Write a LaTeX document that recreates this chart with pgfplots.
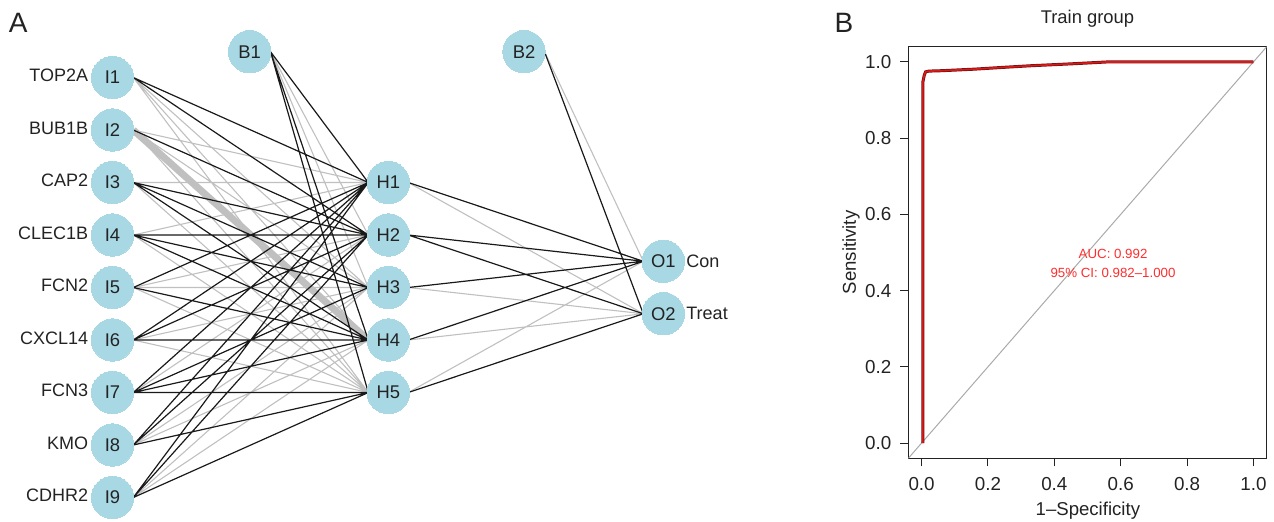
\documentclass[border=0pt]{standalone}
\usepackage{pgfplots}
\pgfplotsset{compat=1.18}
\usepackage{fontspec}
\setmainfont{Liberation Sans}
\definecolor{nodeblue}{RGB}{168,216,228}
\definecolor{edgegray}{RGB}{192,192,192}
\definecolor{edgeblack}{RGB}{25,25,25}
\definecolor{txt}{RGB}{35,35,35}
\definecolor{aucred}{RGB}{255,45,45}
\definecolor{rocdark}{RGB}{110,15,15}
\definecolor{rocred}{RGB}{220,25,25}
\definecolor{diaggray}{RGB}{170,170,170}
\begin{document}
\begin{tikzpicture}
\useasboundingbox (0,0) rectangle (637pt,-260.5pt);
% ---------------- Panel A: neural network ----------------
\begin{axis}[
  at={(0,0)}, anchor=north west, scale only axis,
  width=637pt, height=260.5pt,
  xmin=0, xmax=1274, ymin=0, ymax=521, y dir=reverse,
  enlargelimits=false, hide axis, clip=false,
  unbounded coords=jump,
]
% grey (negative) connections
\addplot[edgegray, line width=0.55pt, mark=none] coordinates {
 (133.3,77.5) (368.3,287.5) (nan,nan)
 (133.3,77.5) (368.3,340) (nan,nan)
 (133.3,77.5) (368.3,392.5) (nan,nan)
 (133.3,130) (368.3,182.5) (nan,nan)
 (133.3,130) (368.3,287.5) (nan,nan)
 (133.3,130) (368.3,392.5) (nan,nan)
 (133.3,182.5) (368.3,182.5) (nan,nan)
 (133.3,182.5) (368.3,392.5) (nan,nan)
 (133.3,235) (368.3,182.5) (nan,nan)
 (133.3,235) (368.3,392.5) (nan,nan)
 (133.3,287.5) (368.3,235) (nan,nan)
 (133.3,287.5) (368.3,287.5) (nan,nan)
 (133.3,287.5) (368.3,392.5) (nan,nan)
 (133.3,340) (368.3,287.5) (nan,nan)
 (133.3,340) (368.3,392.5) (nan,nan)
 (133.3,392.5) (368.3,235) (nan,nan)
 (133.3,445) (368.3,287.5) (nan,nan)
 (133.3,445) (368.3,340) (nan,nan)
 (133.3,497.5) (368.3,287.5) (nan,nan)
 (133.3,497.5) (368.3,340) (nan,nan)
 (270.5,51.7) (368.3,235) (nan,nan)
 (270.5,51.7) (368.3,287.5) (nan,nan)
 (408.3,182.5) (643.3,313.75) (nan,nan)
 (408.3,287.5) (643.3,313.75) (nan,nan)
 (408.3,340) (643.3,313.75) (nan,nan)
 (408.3,392.5) (643.3,261.25) (nan,nan)
 (544.5,51.7) (643.3,261.25)
};
\addplot[edgegray, line width=3.5pt, mark=none] coordinates {(133.3,130) (368.3,340)};
% black (positive) connections
\addplot[edgeblack, line width=0.6pt, mark=none] coordinates {
 (133.3,77.5) (368.3,182.5) (nan,nan)
 (133.3,77.5) (368.3,235) (nan,nan)
 (133.3,130) (368.3,235) (nan,nan)
 (133.3,182.5) (368.3,235) (nan,nan)
 (133.3,182.5) (368.3,287.5) (nan,nan)
 (133.3,182.5) (368.3,340) (nan,nan)
 (133.3,235) (368.3,235) (nan,nan)
 (133.3,235) (368.3,287.5) (nan,nan)
 (133.3,235) (368.3,340) (nan,nan)
 (133.3,287.5) (368.3,182.5) (nan,nan)
 (133.3,287.5) (368.3,340) (nan,nan)
 (133.3,340) (368.3,182.5) (nan,nan)
 (133.3,340) (368.3,235) (nan,nan)
 (133.3,340) (368.3,340) (nan,nan)
 (133.3,392.5) (368.3,182.5) (nan,nan)
 (133.3,392.5) (368.3,287.5) (nan,nan)
 (133.3,392.5) (368.3,340) (nan,nan)
 (133.3,392.5) (368.3,392.5) (nan,nan)
 (133.3,445) (368.3,182.5) (nan,nan)
 (133.3,445) (368.3,235) (nan,nan)
 (133.3,445) (368.3,392.5) (nan,nan)
 (133.3,497.5) (368.3,182.5) (nan,nan)
 (133.3,497.5) (368.3,235) (nan,nan)
 (133.3,497.5) (368.3,392.5) (nan,nan)
 (270.5,51.7) (368.3,182.5) (nan,nan)
 (270.5,51.7) (368.3,340) (nan,nan)
 (270.5,51.7) (368.3,392.5) (nan,nan)
 (408.3,182.5) (643.3,261.25) (nan,nan)
 (408.3,235) (643.3,261.25) (nan,nan)
 (408.3,235) (643.3,313.75) (nan,nan)
 (408.3,287.5) (643.3,261.25) (nan,nan)
 (408.3,340) (643.3,261.25) (nan,nan)
 (408.3,392.5) (643.3,313.75) (nan,nan)
 (544.5,51.7) (643.3,313.75)
};
% neurons
\addplot[only marks, mark=*, mark size=10.6pt,
  mark options={draw=nodeblue, fill=nodeblue, line width=0pt},
  nodes near coords, point meta=explicit symbolic,
  every node near coord/.append style={anchor=center, text=txt,
    font=\fontsize{9.2}{10}\selectfont}]
 coordinates {
 (112.5,77.5) [I1] (112.5,130) [I2] (112.5,182.5) [I3]
 (112.5,235) [I4] (112.5,287.5) [I5] (112.5,340) [I6]
 (112.5,392.5) [I7] (112.5,445) [I8] (112.5,497.5) [I9]
 (249.7,51.7) [B1]
 (388.3,182.5) [H1] (388.3,235) [H2] (388.3,287.5) [H3]
 (388.3,340) [H4] (388.3,392.5) [H5]
 (524,51.7) [B2]
 (663.3,261.25) [O1] (663.3,313.75) [O2]
};
% input names
\addplot[draw=none, mark=none,
  nodes near coords, point meta=explicit symbolic,
  every node near coord/.append style={anchor=east, inner sep=0pt, text=txt,
    font=\fontsize{9}{10}\selectfont}]
 coordinates {
 (88.5,75.5) [TOP2A] (88.5,128) [BUB1B] (88.5,180.5) [CAP2]
 (88.5,233) [CLEC1B] (88.5,285.5) [FCN2] (88.5,338) [CXCL14]
 (88.5,390.5) [FCN3] (88.5,443) [KMO] (88.5,495.5) [CDHR2]
};
% output names
\addplot[draw=none, mark=none,
  nodes near coords, point meta=explicit symbolic,
  every node near coord/.append style={anchor=west, inner sep=0pt, text=txt,
    font=\fontsize{9}{10}\selectfont}]
 coordinates {
 (686,261.5) [Con] (686,313) [Treat]
};
\node[text=txt, font=\fontsize{14}{15}\selectfont] at (axis cs:18.3,23.3) {A};
\node[text=txt, font=\fontsize{14}{15}\selectfont] at (axis cs:844,22.5) {B};
\end{axis}
% ---------------- Panel B: ROC curve ----------------
\begin{axis}[
  at={(454.15pt,-229.15pt)}, anchor=south west, scale only axis,
  width=179.2pt, height=205.8pt,
  xmin=-0.04, xmax=1.04, ymin=-0.04, ymax=1.04,
  enlargelimits=false,
  axis line style={txt, line width=0.5pt},
  tick pos=left, tick align=outside, major tick length=4pt,
  tick style={txt, line width=0.5pt},
  xtick={0,0.2,0.4,0.6,0.8,1}, ytick={0,0.2,0.4,0.6,0.8,1},
  /pgf/number format/assume math mode=true,
  /pgf/number format/.cd, fixed, fixed zerofill, precision=1, /pgfplots/.cd,
  tick label style={font=\fontsize{9.4}{11}\selectfont, text=txt},
  xticklabel shift=2pt, yticklabel shift=1pt,
  title={Train group},
  title style={at={(axis description cs:0.5,1.0284)}, anchor=base,
    font=\fontsize{9.2}{11}\selectfont, text=txt},
  xlabel={1–Specificity},
  xlabel style={at={(axis description cs:0.501,-0.1378)}, anchor=base,
    font=\fontsize{9.3}{11}\selectfont, text=txt},
  ylabel={Sensitivity},
  ylabel style={at={(axis description cs:-0.146,0.5)}, anchor=base, rotate=0,
    font=\fontsize{9.3}{11}\selectfont, text=txt},
]
\addplot[diaggray, line width=0.5pt, mark=none] coordinates {(-0.04,-0.04) (1.04,1.04)};
\addplot[rocdark, line width=1.5pt, mark=none] coordinates {
 (0.004,0) (0.004,0.948) (0.008,0.965) (0.012,0.974) (0.022,0.976)
 (0.06,0.977) (0.157,0.981) (0.25,0.986) (0.328,0.990) (0.45,0.995)
 (0.559,1.0) (1.0,1.0)};
\addplot[rocred, line width=0.8pt, mark=none] coordinates {
 (0.004,0) (0.004,0.948) (0.008,0.965) (0.012,0.974) (0.022,0.976)
 (0.06,0.977) (0.157,0.981) (0.25,0.986) (0.328,0.990) (0.45,0.995)
 (0.559,1.0) (1.0,1.0)};
\node[text=aucred, font=\fontsize{6.65}{8}\selectfont] at (axis cs:0.577,0.496) {AUC: 0.992};
\node[text=aucred, font=\fontsize{6.65}{8}\selectfont] at (axis cs:0.577,0.4455) {95\% CI: 0.982–1.000};
\end{axis}
\end{tikzpicture}
\end{document}
